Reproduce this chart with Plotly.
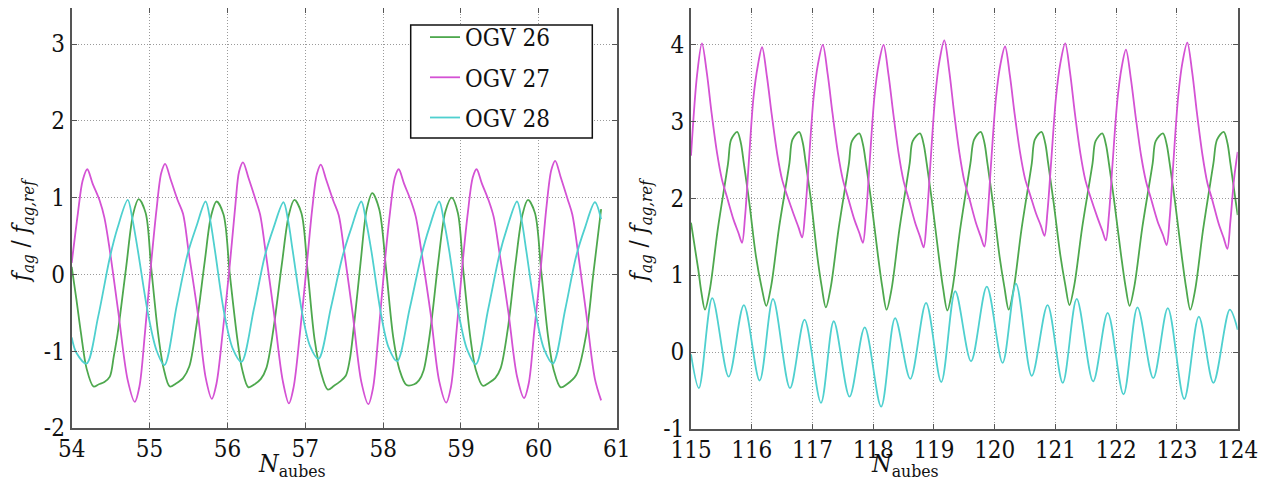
import plotly.graph_objects as go

# ---------------- Left panel data (N_aubes 54..61) ----------------
L_ogv26_x = [54.00, 54.06, 54.12, 54.19, 54.28, 54.35, 54.42, 54.49, 54.54, 54.59, 54.70, 54.79, 54.86, 54.95,
             55.02, 55.11, 55.18, 55.26, 55.34, 55.43, 55.51, 55.60, 55.71, 55.79, 55.86, 55.95,
             56.03, 56.13, 56.19, 56.27, 56.35, 56.43, 56.50, 56.59, 56.70, 56.79, 56.86, 56.95,
             57.03, 57.12, 57.20, 57.29, 57.37, 57.44, 57.52, 57.57, 57.62, 57.71, 57.79, 57.86, 57.95,
             58.04, 58.13, 58.21, 58.30, 58.40, 58.46, 58.52, 58.61, 58.71, 58.80, 58.88, 58.96,
             59.03, 59.12, 59.19, 59.28, 59.36, 59.44, 59.51, 59.60, 59.70, 59.79, 59.86, 59.95,
             60.03, 60.12, 60.19, 60.28, 60.36, 60.48, 60.61, 60.70, 60.80]
L_ogv26_y = [0.10, -0.32, -0.77, -1.22, -1.46, -1.43, -1.40, -1.33, -1.07, -0.77, 0.10, 0.79, 0.98, 0.80,
             0.10, -0.77, -1.22, -1.46, -1.42, -1.35, -1.20, -0.68, 0.18, 0.76, 0.95, 0.78,
             0.01, -0.86, -1.24, -1.47, -1.43, -1.36, -1.22, -0.72, 0.14, 0.78, 0.97, 0.80,
             0.05, -0.85, -1.27, -1.50, -1.45, -1.40, -1.32, -1.12, -0.72, 0.15, 0.85, 1.06, 0.85,
             0.05, -0.82, -1.24, -1.44, -1.43, -1.38, -1.25, -0.70, 0.18, 0.82, 1.00, 0.80,
             0.05, -0.82, -1.24, -1.45, -1.41, -1.35, -1.22, -0.72, 0.14, 0.78, 0.97, 0.80,
             0.05, -0.82, -1.24, -1.47, -1.43, -1.31, -0.77, 0.01, 0.85]

L_ogv27_x = [54.00, 54.08, 54.14, 54.20, 54.27, 54.36, 54.42, 54.49, 54.60, 54.72, 54.81, 54.87, 54.94,
             55.02, 55.09, 55.15, 55.20, 55.27, 55.36, 55.43, 55.50, 55.62, 55.72, 55.80, 55.86, 55.94,
             56.03, 56.10, 56.15, 56.20, 56.27, 56.36, 56.42, 56.49, 56.60, 56.71, 56.79, 56.85, 56.93,
             57.02, 57.09, 57.15, 57.20, 57.27, 57.36, 57.43, 57.50, 57.61, 57.72, 57.81, 57.87, 57.94,
             58.02, 58.09, 58.15, 58.20, 58.27, 58.36, 58.42, 58.49, 58.61, 58.72, 58.81, 58.87, 58.94,
             59.02, 59.09, 59.15, 59.20, 59.27, 59.36, 59.42, 59.49, 59.61, 59.72, 59.81, 59.87, 59.94,
             60.03, 60.10, 60.16, 60.21, 60.28, 60.37, 60.43, 60.50, 60.61, 60.72, 60.80]
L_ogv27_y = [0.15, 0.80, 1.22, 1.37, 1.18, 0.96, 0.74, 0.31, -0.50, -1.38, -1.66, -1.46, -0.77,
             0.14, 0.85, 1.32, 1.44, 1.24, 0.97, 0.79, 0.31, -0.51, -1.34, -1.62, -1.42, -0.75,
             0.12, 0.88, 1.34, 1.46, 1.26, 0.98, 0.78, 0.30, -0.52, -1.38, -1.68, -1.47, -0.78,
             0.13, 0.86, 1.31, 1.43, 1.23, 0.96, 0.77, 0.30, -0.52, -1.40, -1.69, -1.48, -0.78,
             0.14, 0.82, 1.26, 1.37, 1.18, 0.95, 0.75, 0.31, -0.51, -1.39, -1.67, -1.47, -0.77,
             0.14, 0.82, 1.26, 1.37, 1.18, 0.95, 0.75, 0.31, -0.50, -1.33, -1.61, -1.42, -0.75,
             0.14, 0.90, 1.36, 1.48, 1.27, 0.98, 0.78, 0.31, -0.52, -1.36, -1.64]

L_ogv28_x = [54.00, 54.06, 54.19, 54.34, 54.49, 54.59, 54.72, 54.78, 54.85, 54.98,
             55.09, 55.19, 55.35, 55.49, 55.60, 55.72, 55.78, 55.84, 55.96,
             56.07, 56.18, 56.34, 56.48, 56.59, 56.72, 56.78, 56.84, 56.96,
             57.06, 57.17, 57.33, 57.48, 57.59, 57.72, 57.78, 57.85, 57.97,
             58.07, 58.18, 58.34, 58.49, 58.59, 58.72, 58.78, 58.85, 58.97,
             59.08, 59.19, 59.35, 59.49, 59.59, 59.72, 59.78, 59.84, 59.96,
             60.07, 60.18, 60.34, 60.48, 60.59, 60.72, 60.80]
L_ogv28_y = [-0.82, -1.02, -1.16, -0.55, 0.22, 0.61, 0.97, 0.72, 0.31, -0.51,
             -0.99, -1.18, -0.40, 0.27, 0.62, 0.95, 0.70, 0.31, -0.51,
             -0.97, -1.14, -0.45, 0.24, 0.60, 0.94, 0.70, 0.30, -0.50,
             -0.93, -1.10, -0.43, 0.24, 0.60, 0.95, 0.70, 0.30, -0.50,
             -0.95, -1.13, -0.45, 0.24, 0.60, 0.95, 0.70, 0.30, -0.51,
             -0.98, -1.17, -0.45, 0.24, 0.60, 0.95, 0.70, 0.30, -0.51,
             -0.98, -1.16, -0.45, 0.24, 0.60, 0.94, 0.72]

# ---------------- Right panel data (N_aubes 115..124) ----------------
R_ogv26_x = [115.00, 115.12, 115.17, 115.23, 115.31, 115.44, 115.61, 115.66, 115.76, 115.82, 115.87, 115.96, 116.07, 116.16,
             116.24, 116.32, 116.45, 116.62, 116.67, 116.78, 116.84, 116.89, 116.98, 117.08, 117.15,
             117.22, 117.30, 117.43, 117.60, 117.65, 117.77, 117.83, 117.88, 117.97, 118.08, 118.15,
             118.22, 118.30, 118.43, 118.60, 118.65, 118.77, 118.83, 118.88, 118.97, 119.08, 119.15,
             119.22, 119.30, 119.43, 119.60, 119.66, 119.77, 119.83, 119.88, 119.97, 120.08, 120.16,
             120.23, 120.31, 120.44, 120.61, 120.66, 120.77, 120.83, 120.88, 120.97, 121.08, 121.16,
             121.23, 121.31, 121.44, 121.61, 121.66, 121.77, 121.83, 121.88, 121.97, 122.08, 122.15,
             122.22, 122.30, 122.43, 122.60, 122.65, 122.77, 122.83, 122.88, 122.97, 123.08, 123.15,
             123.22, 123.30, 123.43, 123.60, 123.66, 123.77, 123.83, 123.88, 123.97, 124.00]
R_ogv26_y = [1.68, 1.07, 0.78, 0.55, 0.81, 1.59, 2.45, 2.76, 2.86, 2.72, 2.45, 1.94, 1.24, 0.85,
             0.60, 0.86, 1.62, 2.45, 2.76, 2.86, 2.72, 2.45, 1.94, 1.24, 0.86,
             0.58, 0.84, 1.60, 2.45, 2.74, 2.84, 2.70, 2.45, 1.94, 1.24, 0.84,
             0.55, 0.81, 1.59, 2.45, 2.74, 2.84, 2.70, 2.45, 1.94, 1.24, 0.83,
             0.54, 0.80, 1.59, 2.45, 2.76, 2.86, 2.72, 2.45, 1.94, 1.24, 0.84,
             0.55, 0.81, 1.59, 2.45, 2.76, 2.86, 2.72, 2.45, 1.94, 1.26, 0.88,
             0.61, 0.87, 1.62, 2.45, 2.74, 2.84, 2.70, 2.45, 1.94, 1.26, 0.87,
             0.60, 0.86, 1.62, 2.45, 2.74, 2.84, 2.70, 2.45, 1.94, 1.24, 0.84,
             0.55, 0.81, 1.59, 2.45, 2.76, 2.86, 2.72, 2.45, 1.94, 1.78]

R_ogv27_x = [115.00, 115.10, 115.18, 115.26, 115.34, 115.43, 115.51, 115.59, 115.70, 115.78, 115.84, 115.89, 115.95, 116.03, 116.10,
             116.17, 116.25, 116.33, 116.42, 116.50, 116.58, 116.69, 116.77, 116.83, 116.88, 116.94, 117.02, 117.09,
             117.17, 117.25, 117.33, 117.42, 117.50, 117.58, 117.69, 117.77, 117.83, 117.88, 117.94, 118.02, 118.09,
             118.17, 118.25, 118.33, 118.42, 118.50, 118.58, 118.69, 118.77, 118.83, 118.88, 118.94, 119.02, 119.09,
             119.17, 119.25, 119.33, 119.42, 119.50, 119.58, 119.69, 119.77, 119.83, 119.88, 119.94, 120.02, 120.09,
             120.17, 120.25, 120.33, 120.42, 120.50, 120.58, 120.68, 120.76, 120.82, 120.87, 120.93, 121.01, 121.08,
             121.16, 121.24, 121.32, 121.41, 121.49, 121.57, 121.69, 121.77, 121.83, 121.88, 121.94, 122.02, 122.09,
             122.16, 122.24, 122.32, 122.41, 122.49, 122.57, 122.68, 122.77, 122.83, 122.88, 122.94, 123.02, 123.09,
             123.17, 123.25, 123.33, 123.42, 123.50, 123.58, 123.69, 123.77, 123.83, 123.88, 123.94, 124.00]
R_ogv27_y = [2.55, 3.60, 4.01, 3.63, 3.10, 2.58, 2.24, 2.02, 1.72, 1.55, 1.42, 1.76, 2.45, 3.32, 3.72,
             3.96, 3.58, 3.08, 2.57, 2.24, 2.04, 1.79, 1.62, 1.49, 1.82, 2.47, 3.32, 3.74,
             3.99, 3.61, 3.10, 2.58, 2.24, 2.02, 1.72, 1.55, 1.42, 1.76, 2.45, 3.32, 3.74,
             3.99, 3.61, 3.10, 2.57, 2.22, 2.00, 1.68, 1.50, 1.36, 1.72, 2.43, 3.32, 3.78,
             4.05, 3.66, 3.12, 2.58, 2.22, 2.00, 1.68, 1.50, 1.37, 1.74, 2.45, 3.30, 3.72,
             3.97, 3.59, 3.08, 2.58, 2.25, 2.05, 1.80, 1.64, 1.51, 1.84, 2.48, 3.32, 3.75,
             4.01, 3.63, 3.10, 2.58, 2.24, 2.03, 1.75, 1.58, 1.45, 1.78, 2.45, 3.28, 3.70,
             3.93, 3.56, 3.06, 2.55, 2.22, 2.00, 1.70, 1.52, 1.39, 1.74, 2.45, 3.32, 3.76,
             4.02, 3.64, 3.10, 2.56, 2.20, 1.98, 1.66, 1.48, 1.34, 1.70, 2.25, 2.60]

R_ogv28_x = [115.00, 115.13, 115.35, 115.62, 115.87, 116.13, 116.35, 116.63, 116.87, 117.14, 117.35, 117.61, 117.86,
             118.13, 118.36, 118.61, 118.87, 119.12, 119.35, 119.61, 119.87, 120.13, 120.35, 120.61, 120.87,
             121.12, 121.35, 121.62, 121.86, 122.12, 122.35, 122.61, 122.85, 123.12, 123.36, 123.60, 123.87, 124.00]
R_ogv28_y = [-0.03, -0.47, 0.70, -0.32, 0.61, -0.37, 0.69, -0.47, 0.42, -0.66, 0.40, -0.58, 0.32,
             -0.71, 0.44, -0.35, 0.64, -0.39, 0.79, -0.12, 0.85, -0.14, 0.89, -0.31, 0.61,
             -0.40, 0.69, -0.38, 0.51, -0.55, 0.58, -0.34, 0.57, -0.61, 0.46, -0.40, 0.55, 0.29]

names = ["OGV 26", "OGV 27", "OGV 28"]
colors = ["#4ea84e", "#d452d4", "#4fd0cf"]

L_xticks = [54, 55, 56, 57, 58, 59, 60, 61]
L_yticks = [-2, -1, 0, 1, 2, 3]
L_yticklabels = ["-2", "-1", "0", "1", "2", "3"]
R_xticks = [115, 116, 117, 118, 119, 120, 121, 122, 123, 124]
R_yticks = [-1, 0, 1, 2, 3, 4]
R_yticklabels = ["-1", "0", "1", "2", "3", "4"]

FONT = "DejaVu Serif Condensed, DejaVu Serif, serif"

# Page body has an 8px margin: map screenshot pixels to figure paper coords.
OFF = 8
W, H = 1266, 475


def fx(px):
    return (px - OFF) / W


def fy(py):
    return min(1.0, max(0.0, 1 - (py - OFF) / H))


fig = go.Figure()
left = [(L_ogv26_x, L_ogv26_y), (L_ogv27_x, L_ogv27_y), (L_ogv28_x, L_ogv28_y)]
right = [(R_ogv26_x, R_ogv26_y), (R_ogv27_x, R_ogv27_y), (R_ogv28_x, R_ogv28_y)]
for i, (xs, ys) in enumerate(left):
    fig.add_trace(go.Scatter(x=xs, y=ys, mode="lines", name=names[i], legendgroup=names[i],
                             line=dict(color=colors[i], width=1.8, shape="spline", smoothing=0.9),
                             xaxis="x", yaxis="y"))
for i, (xs, ys) in enumerate(right):
    fig.add_trace(go.Scatter(x=xs, y=ys, mode="lines", name=names[i], showlegend=False,
                             line=dict(color=colors[i], width=1.8, shape="spline", smoothing=0.9),
                             xaxis="x2", yaxis="y2"))

axis_common = dict(showline=True, linecolor="#555", linewidth=2, mirror="allticks",
                   ticks="inside", ticklen=5, tickcolor="#555", tickwidth=1,
                   showgrid=True, gridcolor="#9a9a9a", griddash="1px,2px", gridwidth=1,
                   zeroline=False, automargin=False,
                   tickfont=dict(family=FONT, size=24, color="#111"))

fig.update_layout(
    width=W, height=H,
    margin=dict(l=0, r=0, t=0, b=0),
    paper_bgcolor="white", plot_bgcolor="white",
    font=dict(family=FONT, color="#111"),
    xaxis=dict(domain=[fx(71.7), fx(616.7)], range=[54, 61], tickvals=L_xticks, ticklabelstandoff=-2,
               anchor="y", **axis_common),
    yaxis=dict(domain=[fy(428), 1.0], range=[-2, 3.47], tickvals=L_yticks, ticktext=L_yticklabels,
               anchor="x", **axis_common),
    xaxis2=dict(domain=[fx(691), fx(1237.7)], range=[115, 124], tickvals=R_xticks, ticklabelstandoff=-2,
                anchor="y2", **axis_common),
    yaxis2=dict(domain=[fy(429), 1.0], range=[-1, 4.47], tickvals=R_yticks, ticktext=R_yticklabels,
                anchor="x2", **axis_common),
    showlegend=True,
    legend=dict(x=fx(425), y=fy(15), xanchor="left", yanchor="top",
                bgcolor="rgba(0,0,0,0)", borderwidth=0,
                font=dict(family=FONT, size=24, color="#111"),
                traceorder="grouped", tracegroupgap=6, itemwidth=30),
    shapes=[dict(type="rect", xref="paper", yref="paper",
                 x0=fx(410.7), x1=fx(592.3), y0=fy(138), y1=fy(25),
                 line=dict(color="#111", width=1.5), fillcolor="white", layer="above")],
)

xt = "<i>N</i><sub>aubes</sub>"
yt = "<i>f<sub>ag</sub></i> / <i>f<sub>ag,ref</sub></i>"
for xc in (292, 905):
    fig.add_annotation(text=xt, x=fx(xc), y=fy(483), xref="paper", yref="paper",
                       xanchor="center", yanchor="bottom",
                       showarrow=False, font=dict(family=FONT, size=25, color="#111"))
for xc in (23, 641):
    fig.add_annotation(text=yt, x=fx(xc), y=fy(231), xref="paper", yref="paper", textangle=-90,
                       xanchor="center", yanchor="middle",
                       showarrow=False, font=dict(family=FONT, size=24, color="#111"))

fig.write_html("out.html")
